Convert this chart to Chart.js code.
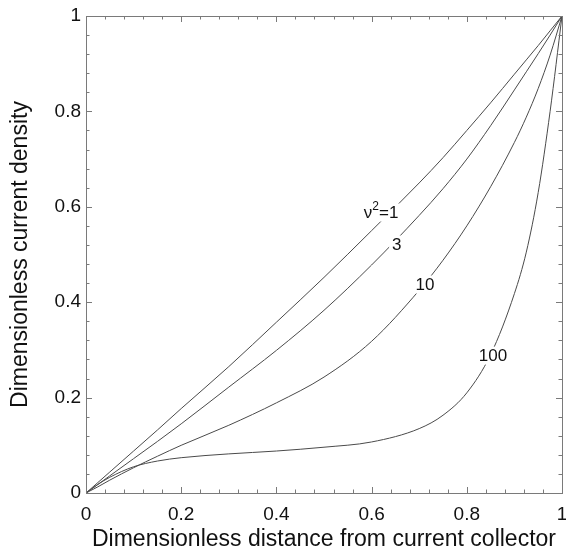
<!DOCTYPE html>
<html>
<head>
<meta charset="utf-8">
<script src="https://cdn.jsdelivr.net/npm/chart.js@4/dist/chart.umd.min.js"></script>
<style>
  html,body{margin:0;padding:0;background:#fff;}
  canvas{display:block;}
</style>
</head>
<body>
<canvas id="chart" width="566" height="551"></canvas>
<script>
// distance from current collector (shared x grid)
const xVals = [0,0.025,0.05,0.1,0.15,0.2,0.3,0.4,0.5,0.6,0.7,0.75,0.8,0.85,0.9,0.925,0.95,0.975,1];

// dimensionless current density for each nu^2
const nu1   = [0,0.022,0.044,0.088,0.132,0.177,0.265,0.358,0.452,0.550,0.650,0.703,0.760,0.818,0.878,0.908,0.938,0.969,1];
const nu3   = [0,0.018,0.036,0.072,0.108,0.145,0.222,0.299,0.383,0.478,0.582,0.638,0.700,0.770,0.845,0.883,0.921,0.960,1];
const nu10  = [0,0.013,0.027,0.053,0.077,0.100,0.142,0.189,0.243,0.318,0.425,0.488,0.560,0.642,0.735,0.788,0.848,0.918,1];
const nu100 = [0,0.018,0.033,0.055,0.067,0.074,0.082,0.088,0.096,0.107,0.135,0.163,0.210,0.290,0.418,0.505,0.630,0.800,1];

const seriesNames = ['ν²=1','3','10','100'];
const tickVals = [0,0.2,0.4,0.6,0.8,1];

// where the in-line labels sit (data coords)
const labelAt = [[0.620,0.588],[0.653,0.521],[0.712,0.437],[0.855,0.288]];

const FONT = '"Liberation Sans", Arial, sans-serif';
const LINE = '#4a4a4a';
const AXIS = '#7a7a7a';

const toPts = ys => xVals.map((x,i)=>({x:x, y:ys[i]}));

// frame + inward ticks on all four sides
const framePlugin = {
  id:'frame',
  afterDatasetsDraw(chart){
    const {ctx, chartArea:a, scales:{x,y}} = chart;
    ctx.save();
    ctx.strokeStyle = AXIS;
    ctx.lineWidth = 1;
    ctx.strokeRect(a.left+0.5, a.top+0.5, a.right-a.left, a.bottom-a.top);
    ctx.beginPath();
    for(let i=0;i<=25;i++){
      const v = i*0.04;
      const len = (i%5===0) ? 6 : 3.5;
      const px = Math.round(x.getPixelForValue(v))+0.5;
      const py = Math.round(y.getPixelForValue(v))+0.5;
      ctx.moveTo(px, a.bottom); ctx.lineTo(px, a.bottom-len);
      ctx.moveTo(px, a.top); ctx.lineTo(px, a.top+len);
      ctx.moveTo(a.left, py); ctx.lineTo(a.left+len, py);
      ctx.moveTo(a.right, py); ctx.lineTo(a.right-len, py);
    }
    ctx.stroke();
    ctx.restore();
  }
};

// curve labels, with a white box that breaks the line
const labelPlugin = {
  id:'curveLabels',
  afterDatasetsDraw(chart){
    const {ctx, scales:{x,y}} = chart;
    ctx.save();
    ctx.textBaseline = 'middle';
    seriesNames.forEach((name,i)=>{
      const cx = x.getPixelForValue(labelAt[i][0]);
      const cy = y.getPixelForValue(labelAt[i][1]);
      let parts;
      if(name.indexOf('²')>=0){
        const [a,b] = name.split('²');
        parts = [[a,17,0],['2',12,-7],[b,17,0]];
      } else parts = [[name,17,0]];
      let w = 0;
      parts.forEach(p=>{ ctx.font = p[1]+'px '+FONT; w += ctx.measureText(p[0]).width; });
      ctx.fillStyle = '#fff';
      ctx.fillRect(cx-w/2-3, cy-9, w+6, 18);
      ctx.fillStyle = '#111';
      let px = cx - w/2;
      parts.forEach(p=>{
        ctx.font = p[1]+'px '+FONT;
        ctx.fillText(p[0], px, cy+1+p[2]);
        px += ctx.measureText(p[0]).width;
      });
    });
    ctx.restore();
  }
};

const ds = (data) => ({
  data: toPts(data),
  borderColor: LINE,
  borderWidth: 1,
  pointRadius: 0,
  fill: false,
  cubicInterpolationMode: 'monotone'
});

new Chart(document.getElementById('chart'), {
  type:'line',
  data:{ datasets:[ds(nu1), ds(nu3), ds(nu10), ds(nu100)] },
  options:{
    responsive:false,
    animation:false,
    devicePixelRatio:1,
    layout:{padding:{top:16, right:4, left:0, bottom:0}},
    plugins:{legend:{display:false}, tooltip:{enabled:false}},
    scales:{
      x:{
        type:'linear', min:0, max:1,
        afterBuildTicks: s => { s.ticks = tickVals.map(v=>({value:v})); },
        afterFit: s => { s.height = 58; s.paddingLeft = 0; s.paddingRight = 0; },
        grid:{display:false, drawTicks:false},
        border:{display:false},
        ticks:{color:'#111', font:{family:FONT, size:19}, padding:10, maxRotation:0,
               callback: v => String(v)},
        title:{display:true, text:'Dimensionless distance from current collector',
               color:'#111', font:{family:FONT, size:23}, padding:{top:0, bottom:-2}}
      },
      y:{
        type:'linear', min:0, max:1,
        afterBuildTicks: s => { s.ticks = tickVals.map(v=>({value:v})); },
        afterFit: s => { s.width = 86; s.paddingTop = 0; s.paddingBottom = 0; },
        grid:{display:false, drawTicks:false},
        border:{display:false},
        ticks:{color:'#111', font:{family:FONT, size:19}, padding:5,
               callback: v => String(v)},
        title:{display:true, text:'Dimensionless current density',
               color:'#111', font:{family:FONT, size:23}, padding:{top:7, bottom:0}}
      }
    }
  },
  plugins:[framePlugin, labelPlugin]
});
</script>
</body>
</html>
